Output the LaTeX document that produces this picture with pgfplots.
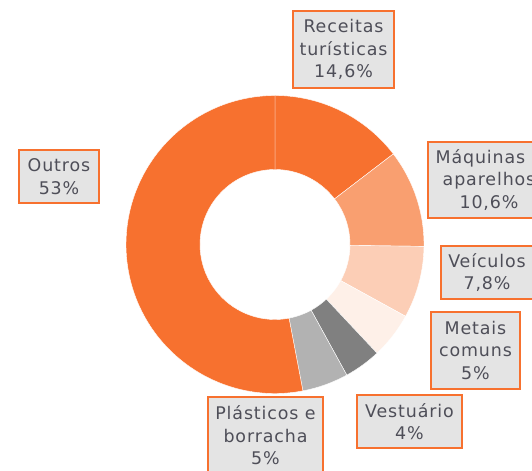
\documentclass[border=0pt]{standalone}
\usepackage{pgfplots}
\usepackage{pgfplotstable}
\pgfplotsset{compat=1.18}
\usepackage{fontspec}
\setmainfont{DejaVu Sans}
\newfontfamily\labfont[LetterSpace=5]{DejaVu Sans}

\definecolor{cOrange}{HTML}{F7712F}
\definecolor{cMaq}{HTML}{F99F70}
\definecolor{cVei}{HTML}{FCCEB6}
\definecolor{cMet}{HTML}{FEF0E8}
\definecolor{cVest}{HTML}{808080}
\definecolor{cPla}{HTML}{B2B2B2}
\definecolor{boxfill}{HTML}{E4E4E4}
\definecolor{labtext}{HTML}{4E4E58}

% share of each slice, clockwise from 12 o'clock
\pgfplotstableread[col sep=comma]{
name,value,color
Receitas,14.6,cOrange
Maquinas,10.6,cMaq
Veiculos,7.8,cVei
Metais,5,cMet
Vestuario,4,cVest
Plasticos,5,cPla
Outros,53,cOrange
}\shares

\tikzset{lab/.style={draw=cOrange, line width=1.4bp, fill=boxfill, text=labtext,
  align=center, inner sep=0pt, font=\labfont\fontsize{17.5}{22.5}\selectfont}}

\begin{document}
\begin{tikzpicture}
\useasboundingbox (0,0) rectangle (532bp,471bp);
\clip (0,0) rectangle (532bp,471bp);
\begin{axis}[
  at={(0,0)}, anchor=south west,
  scale only axis,
  width=532bp, height=471bp,
  xmin=0, xmax=532, ymin=0, ymax=471,
  hide axis, clip=false]
\def\cx{275}\def\cy{226.5}\def\Rout{149}\def\Rin{75}
\def\astart{90}
\pgfplotsforeachungrouped \i in {0,...,6}{%
  \pgfplotstablegetelem{\i}{value}\of\shares
  \pgfmathsetmacro\aend{\astart-3.6*\pgfplotsretval}
  \pgfplotstablegetelem{\i}{color}\of\shares
  \edef\slicecol{\pgfplotsretval}
  \pgfmathsetmacro\xa{\cx+\Rout*cos(\astart)}
  \pgfmathsetmacro\ya{\cy+\Rout*sin(\astart)}
  \pgfmathsetmacro\xb{\cx+\Rin*cos(\aend)}
  \pgfmathsetmacro\yb{\cy+\Rin*sin(\aend)}
  \edef\temp{\noexpand\fill[\slicecol, draw=white, line width=0.4bp]
    (axis cs:\xa,\ya) arc[start angle=\astart, end angle=\aend, radius=\Rout bp]
    -- (axis cs:\xb,\yb) arc[start angle=\aend, end angle=\astart, radius=\Rin bp] -- cycle;}
  \temp
  \let\astart\aend
}
\node[lab, minimum width=101bp, minimum height=77bp] at (axis cs:343.5,421.5) {Receitas\\turísticas\\14,6\%};
\node[lab, minimum width=122bp, minimum height=76bp] at (axis cs:489,291) {Máquinas e\\aparelhos\\10,6\%};
\node[lab, minimum width=92bp, minimum height=53bp] at (axis cs:487,198.5) {Veículos\\7,8\%};
\node[lab, minimum width=89bp, minimum height=77bp] at (axis cs:475.5,120.5) {Metais\\comuns\\5\%};
\node[lab, minimum width=105bp, minimum height=53bp] at (axis cs:409.5,49.5) {Vestuário\\4\%};
\node[lab, minimum width=115bp, minimum height=77bp] at (axis cs:265.5,35.5) {Plásticos e\\borracha\\5\%};
\node[lab, minimum width=80bp, minimum height=53bp] at (axis cs:59,294.5) {Outros\\53\%};
\end{axis}
\end{tikzpicture}
\end{document}
